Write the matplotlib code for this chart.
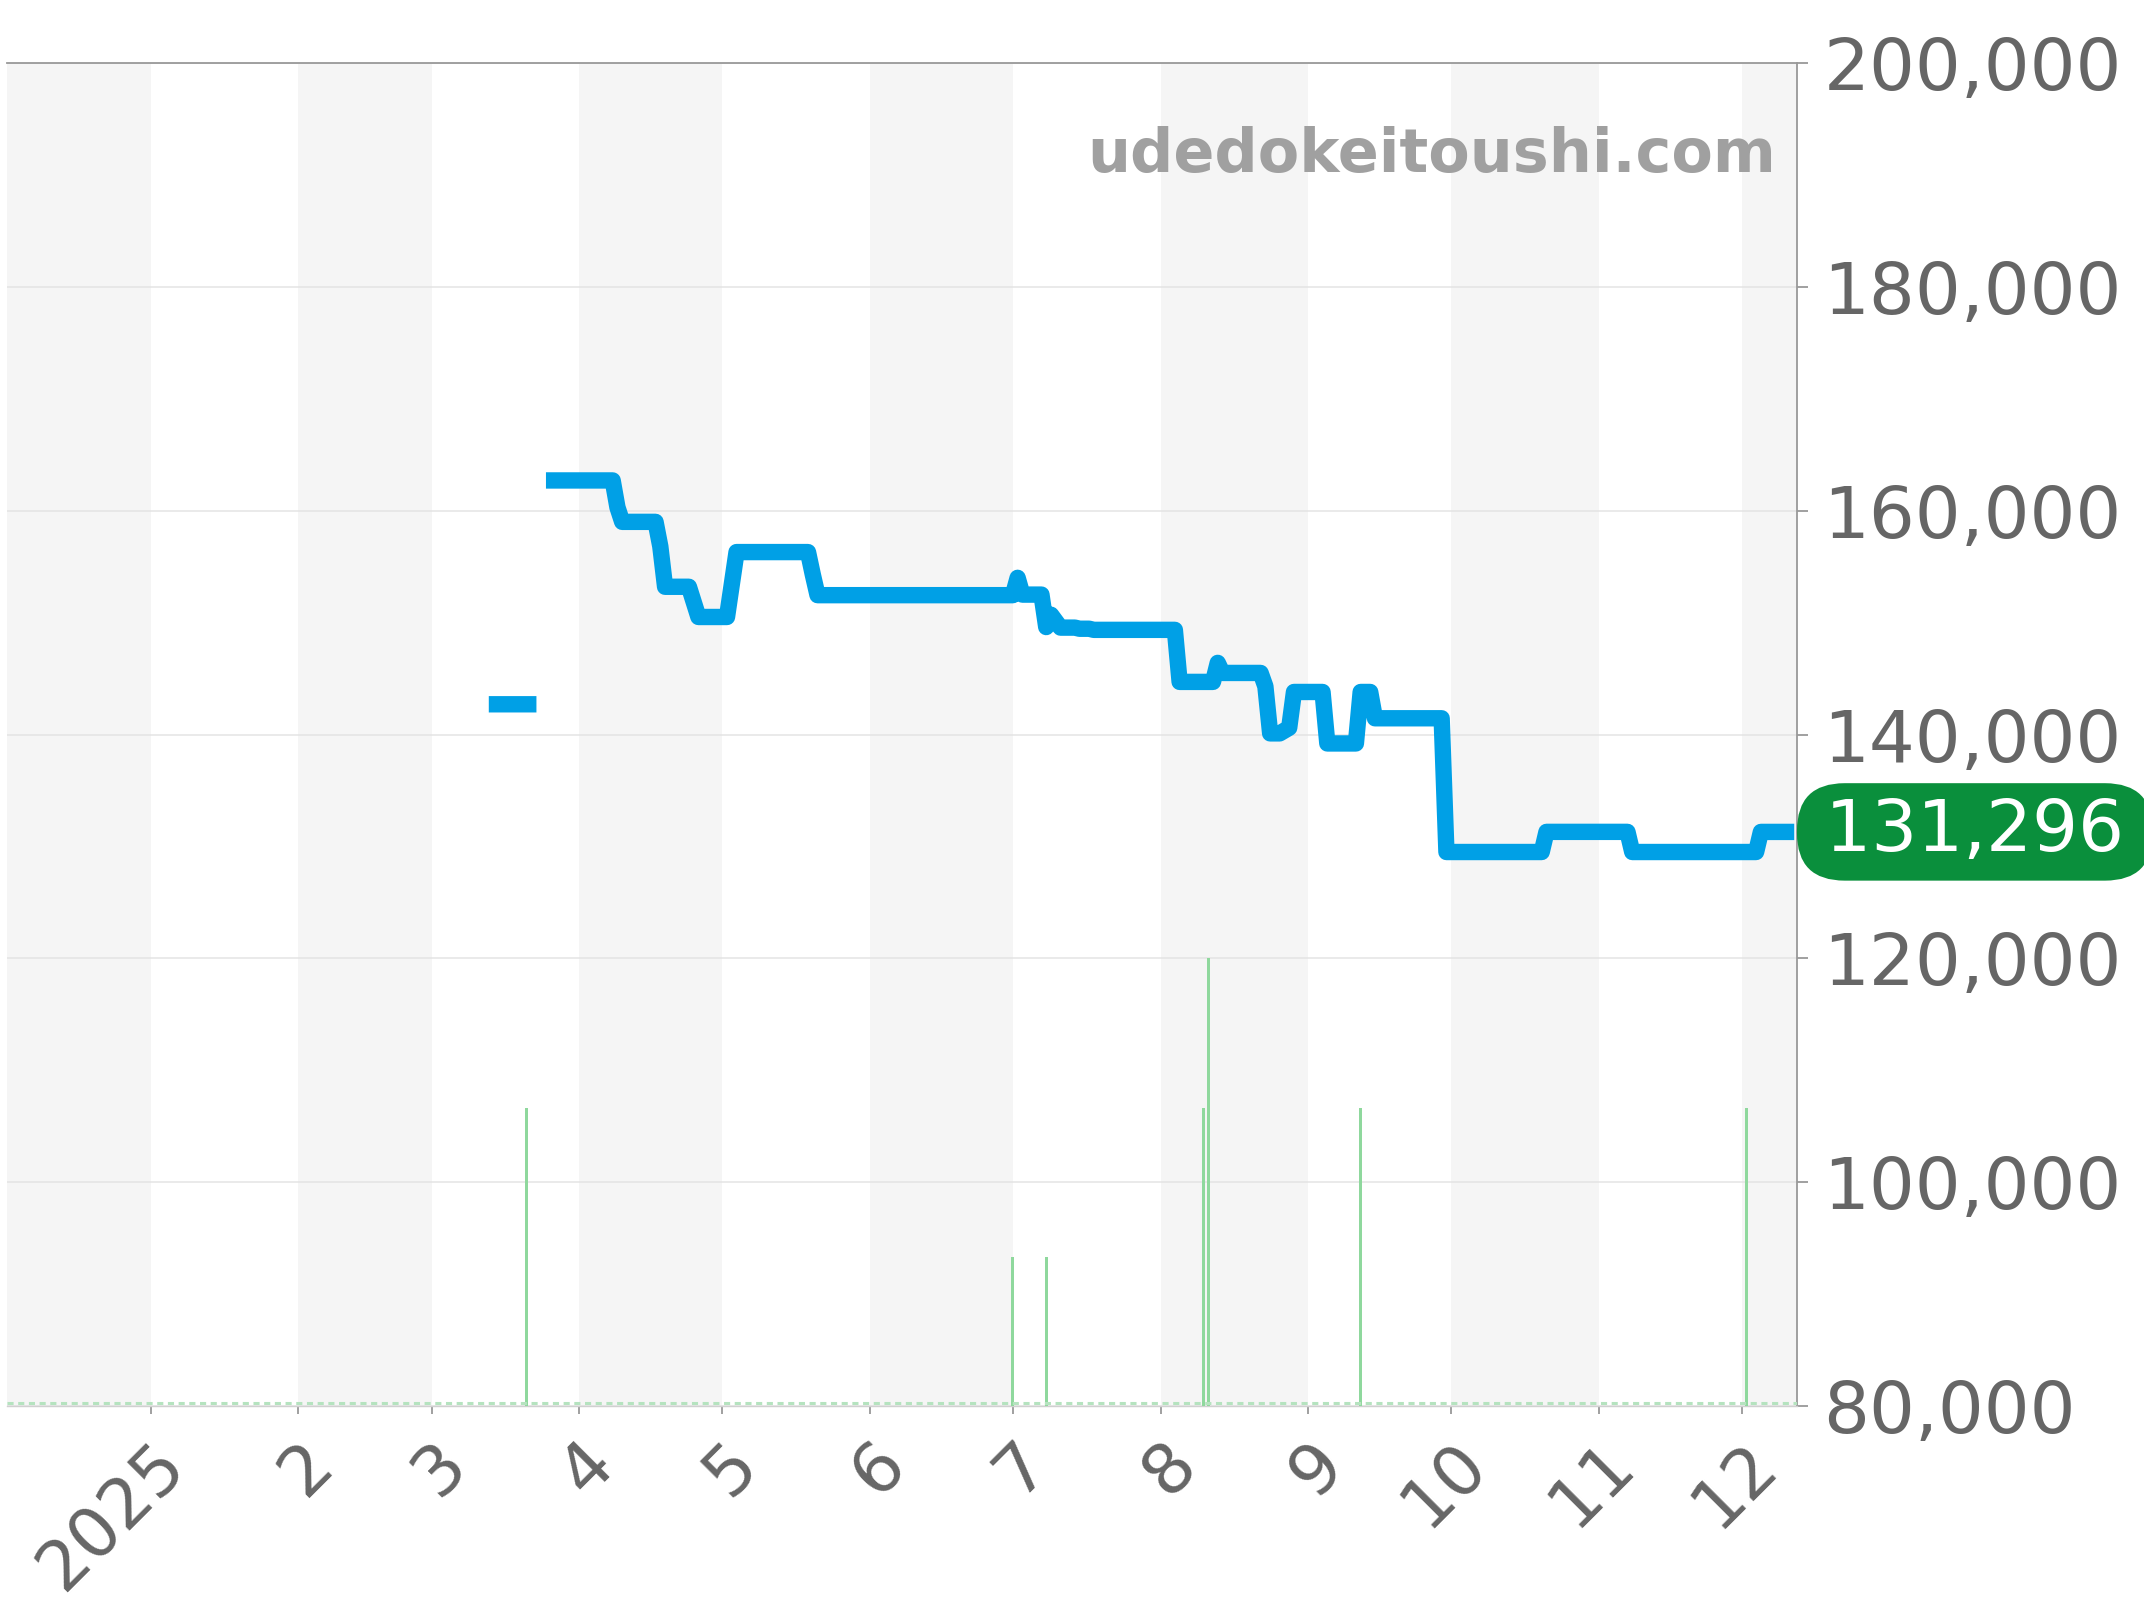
import numpy as np
import pandas as pd
import matplotlib
matplotlib.use("Agg")
import matplotlib.pyplot as plt
from matplotlib.ticker import FuncFormatter
from matplotlib.transforms import ScaledTranslation

# PRICE SERIES
price_dates = [
    "2025-03-13", "2025-03-23", "2025-03-24",
    "2025-03-25", "2025-04-08", "2025-04-09", "2025-04-10", "2025-04-17",
    "2025-04-18", "2025-04-19", "2025-04-24", "2025-04-26", "2025-05-02",
    "2025-05-04", "2025-05-19", "2025-05-20", "2025-05-21", "2025-07-01",
    "2025-07-02", "2025-07-03", "2025-07-07", "2025-07-08", "2025-07-09",
    "2025-07-11", "2025-07-14", "2025-07-15", "2025-07-17", "2025-07-18",
    "2025-08-04", "2025-08-05", "2025-08-12", "2025-08-13", "2025-08-14",
    "2025-08-22", "2025-08-23", "2025-08-24", "2025-08-26", "2025-08-28",
    "2025-08-29", "2025-09-04", "2025-09-05", "2025-09-11", "2025-09-12",
    "2025-09-14", "2025-09-15", "2025-09-29", "2025-09-30", "2025-10-20",
    "2025-10-21", "2025-11-07", "2025-11-08", "2025-12-04", "2025-12-05",
    "2025-12-12",
]
price_values = [
    142700, 142700, np.nan,
    162700, 162700, 160300, 159000, 159000,
    156800, 153200, 153200, 150500, 150500,
    156300, 156300, 154300, 152450, 152450,
    154000, 152500, 152500, 149600, 150700,
    149550, 149550, 149450, 149450, 149350,
    149350, 144700, 144700, 146400, 145500,
    145500, 144300, 140100, 140100, 140600,
    143800, 143800, 139200, 139200, 143800,
    143800, 141450, 141450, 129500, 129500,
    131300, 131300, 129500, 129500, 131296,
    131296,
]

# VOLUME (number of listings)
vol_dates = ["2025-03-21", "2025-07-01", "2025-07-08", "2025-08-10",
             "2025-08-11", "2025-09-12", "2025-12-02"]
vol_values = [2, 1, 1, 2, 3, 2, 2]

latest_price = 131296
month_labels = ["2025", "2", "3", "4", "5", "6", "7", "8", "9", "10", "11", "12"]

price_x = pd.to_datetime(price_dates)
vol_x = pd.to_datetime(vol_dates)
month_starts = pd.date_range("2025-01-01", "2025-12-01", freq="MS")

x_left = pd.Timestamp("2024-12-01 21:00")
x_right = pd.Timestamp("2025-12-12 14:00")

GRAY = "#666666"
BLUE = "#00a0e6"
GREEN_BAR = "#8fd89d"

fig = plt.figure(figsize=(21.44, 16), dpi=100)
ax = fig.add_axes([7 / 2144, 194 / 1600, 1790 / 2144, 1343 / 1600])

# alternating month shading
edges = [x_left] + list(month_starts) + [x_right]
for i in range(len(edges) - 1):
    if i % 2 == 0:
        ax.axvspan(edges[i], edges[i + 1], color="#f5f5f5", lw=0, zorder=0)

ax.set_xlim(x_left, x_right)
ax.set_ylim(80000, 200000)
ax.set_yticks(np.arange(80000, 200001, 20000))
ax.yaxis.set_major_formatter(FuncFormatter(lambda v, p: f"{int(v):,}"))
ax.grid(axis="y", color="#e4e4e4", lw=1.1, zorder=1)
ax.set_axisbelow(True)

ax.set_xticks(month_starts)
ax.set_xticklabels(month_labels, rotation=45, ha="right", va="center",
                   rotation_mode="anchor")

# volume bars on a hidden secondary axis
ax2 = ax.twinx()
ax2.set_ylim(0, 9)
ax2.bar(vol_x, vol_values, width=0.6, color=GREEN_BAR, zorder=2)
ax2.axhline(0.02, color="#b5e3bf", lw=2.2, ls=(0, (2, 1.5)), zorder=2)
ax2.set_yticks([])
for s in ax2.spines.values():
    s.set_visible(False)
ax2.set_xlim(x_left, x_right)

# price line drawn on top
ax3 = ax.twinx()
ax3.set_ylim(80000, 200000)
ax3.set_yticks([])
for s in ax3.spines.values():
    s.set_visible(False)
ax3.plot(price_x, price_values, color=BLUE, lw=11.8,
         solid_joinstyle="round", solid_capstyle="butt", zorder=3)
ax3.set_xlim(x_left, x_right)

# twinx moves the main ticks to the left, put them back on the right
ax.yaxis.tick_right()
ax.tick_params(axis="y", which="both", labelsize=52, colors="#999999",
               labelcolor=GRAY, length=8, width=1.3, pad=11)
ax.tick_params(axis="x", labelsize=50, colors="#999999", labelcolor=GRAY,
               length=6, width=1.3, pad=28)
shift = ScaledTranslation(0.24, 0, fig.dpi_scale_trans)
for lbl in ax.get_xticklabels():
    lbl.set_transform(lbl.get_transform() + shift)

ax.spines["left"].set_visible(False)
ax.spines["top"].set_color("#999999")
ax.spines["top"].set_linewidth(1.3)
ax.spines["right"].set_color("#999999")
ax.spines["right"].set_linewidth(1.3)
ax.spines["bottom"].set_color("#d0d0d0")
ax.spines["bottom"].set_linewidth(1.0)

# watermark
ax3.text(0.988, 0.9188, "udedokeitoushi.com", transform=ax.transAxes,
         ha="right", va="baseline", fontsize=43.5, fontweight="bold",
         color="#a0a0a0", zorder=4)

# latest price badge
ax3.annotate("\u2009" + f"{latest_price:,}" + "\u2009", xy=(1.0, latest_price),
             xycoords=ax.get_yaxis_transform(), xytext=(10.2, 0),
             textcoords="offset points", ha="left", va="center",
             fontsize=52, color="white", annotation_clip=False,
             bbox=dict(boxstyle="round,pad=0.197,rounding_size=0.66",
                       fc="#0a8f3c", ec="none"), zorder=5)

fig.savefig("out.png", dpi=100)
